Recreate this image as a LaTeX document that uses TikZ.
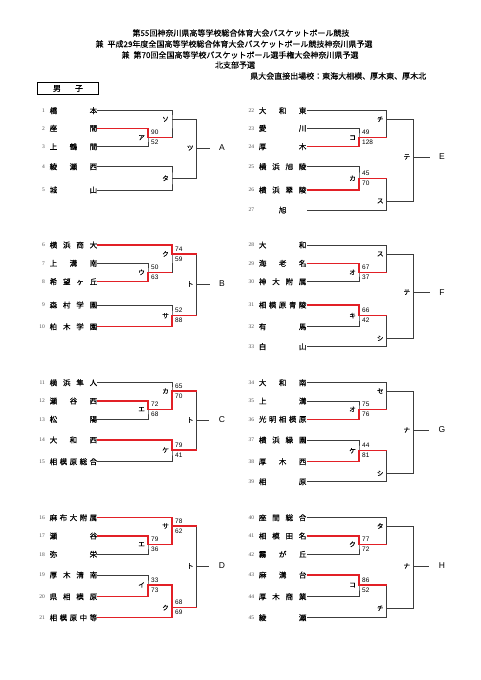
\documentclass[tikz,border=0pt]{standalone}
\usepackage{fontspec}
\usepackage{xcolor}
\setmainfont{Noto Sans CJK JP}
\newfontfamily\jpb{Noto Sans CJK JP}[FakeBold=0.4]
\newfontfamily\scorefont{Liberation Sans}
\newfontfamily\numfont{Liberation Serif}
\definecolor{winred}{RGB}{226,32,38}
\definecolor{bline}{RGB}{60,60,60}
\newcommand{\schname}[1]{\makebox[47.5pt][s]{#1}}

\begin{document}
\begin{tikzpicture}[x=1pt, y=-1pt,
    line/.style={draw=bline, line width=0.8pt},
    win/.style={draw=winred, line width=1.4pt},
    team/.style={anchor=west, inner xsep=0pt, inner ysep=1pt, font=\jpb\fontsize{7.5}{8}\selectfont},
    num/.style={font=\numfont\fontsize{5.5}{6}\selectfont, text=black!70, inner sep=0pt, xshift=-4.5pt},
    mlbl/.style={font=\jpb\fontsize{6.5}{7}\selectfont, inner sep=0pt, xshift=-3pt},
    sc/.style={font=\scorefont\fontsize{6.5}{7}\selectfont, inner sep=0pt, xshift=3pt},
    grp/.style={font=\scorefont\fontsize{8.5}{9}\selectfont},
    head/.style={font=\jpb\fontsize{8}{9}\selectfont, inner sep=0pt}]
    \useasboundingbox (0,0) rectangle (481,680);

    % title
    \node[head] (h1) at (241,33) {第55回神奈川県高等学校総合体育大会バスケットボール競技};
    \node[head] (h2) at (234,44) {兼\hspace{4pt}平成29年度全国高等学校総合体育大会バスケットボール競技神奈川県予選};
    \node[head] (h3) at (240,55) {兼\hspace{4pt}第70回全国高等学校バスケットボール選手権大会神奈川県予選};
    \node[head] (h4) at (235,65) {北支部予選};
    \node[head, anchor=west] (h5) at (250,76) {県大会直接出場校：東海大相模、厚木東、厚木北};
    \node[draw=black, line width=0.9pt, minimum width=61pt, minimum height=12pt, inner sep=0pt,
          font=\jpb\fontsize{8}{9}\selectfont] (boys) at (68,88.5) {\makebox[30pt][s]{男\hfill 子}};

    % teams, left
    \node[team, label={[num]left:1}] (t1) at (49.5,110.7) {\schname{橋\hfill 本}};
    \node[team, label={[num]left:2}] (t2) at (49.5,128.3) {\schname{座\hfill 間}};
    \node[team, label={[num]left:3}] (t3) at (49.5,146.7) {\schname{上\hfill 鶴\hfill 間}};
    \node[team, label={[num]left:4}] (t4) at (49.5,166.7) {\schname{綾\hfill 瀬\hfill 西}};
    \node[team, label={[num]left:5}] (t5) at (49.5,190) {\schname{城\hfill 山}};
    \node[team, label={[num]left:6}] (t6) at (49.5,245) {\schname{横\hfill 浜\hfill 商\hfill 大}};
    \node[team, label={[num]left:7}] (t7) at (49.5,263.3) {\schname{上\hfill 溝\hfill 南}};
    \node[team, label={[num]left:8}] (t8) at (49.5,281.7) {\schname{希\hfill 望\hfill ヶ\hfill 丘}};
    \node[team, label={[num]left:9}] (t9) at (49.5,305) {\schname{森\hfill 村\hfill 学\hfill 園}};
    \node[team, label={[num]left:10}] (t10) at (49.5,326.7) {\schname{柏\hfill 木\hfill 学\hfill 園}};
    \node[team, label={[num]left:11}] (t11) at (49.5,382.7) {\schname{横\hfill 浜\hfill 隼\hfill 人}};
    \node[team, label={[num]left:12}] (t12) at (49.5,401) {\schname{瀬\hfill 谷\hfill 西}};
    \node[team, label={[num]left:13}] (t13) at (49.5,419.3) {\schname{松\hfill 陽}};
    \node[team, label={[num]left:14}] (t14) at (49.5,440) {\schname{大\hfill 和\hfill 西}};
    \node[team, label={[num]left:15}] (t15) at (49.5,461.7) {\schname{相\hfill 模\hfill 原\hfill 総\hfill 合}};
    \node[team, label={[num]left:16}] (t16) at (49.5,517.7) {\schname{麻\hfill 布\hfill 大\hfill 附\hfill 属}};
    \node[team, label={[num]left:17}] (t17) at (49.5,536) {\schname{瀬\hfill 谷}};
    \node[team, label={[num]left:18}] (t18) at (49.5,554.3) {\schname{弥\hfill 栄}};
    \node[team, label={[num]left:19}] (t19) at (49.5,575) {\schname{厚\hfill 木\hfill 清\hfill 南}};
    \node[team, label={[num]left:20}] (t20) at (49.5,596.7) {\schname{県\hfill 相\hfill 模\hfill 原}};
    \node[team, label={[num]left:21}] (t21) at (49.5,617.7) {\schname{相\hfill 模\hfill 原\hfill 中\hfill 等}};

    % teams, right
    \node[team, label={[num]left:22}] (t22) at (258.7,110.7) {\schname{大\hfill 和\hfill 東}};
    \node[team, label={[num]left:23}] (t23) at (258.7,128.3) {\schname{愛\hfill 川}};
    \node[team, label={[num]left:24}] (t24) at (258.7,146.7) {\schname{厚\hfill 木}};
    \node[team, label={[num]left:25}] (t25) at (258.7,166.7) {\schname{横\hfill 浜\hfill 旭\hfill 陵}};
    \node[team, label={[num]left:26}] (t26) at (258.7,190) {\schname{横\hfill 浜\hfill 翠\hfill 陵}};
    \node[team, label={[num]left:27}] (t27) at (258.7,210) {\schname{\hfill 旭\hfill}};
    \node[team, label={[num]left:28}] (t28) at (258.7,245) {\schname{大\hfill 和}};
    \node[team, label={[num]left:29}] (t29) at (258.7,263.3) {\schname{海\hfill 老\hfill 名}};
    \node[team, label={[num]left:30}] (t30) at (258.7,281.7) {\schname{神\hfill 大\hfill 附\hfill 属}};
    \node[team, label={[num]left:31}] (t31) at (258.7,305) {\schname{相\hfill 模\hfill 原\hfill 青\hfill 陵}};
    \node[team, label={[num]left:32}] (t32) at (258.7,326.7) {\schname{有\hfill 馬}};
    \node[team, label={[num]left:33}] (t33) at (258.7,346.7) {\schname{白\hfill 山}};
    \node[team, label={[num]left:34}] (t34) at (258.7,382.7) {\schname{大\hfill 和\hfill 南}};
    \node[team, label={[num]left:35}] (t35) at (258.7,401) {\schname{上\hfill 溝}};
    \node[team, label={[num]left:36}] (t36) at (258.7,419.3) {\schname{光\hfill 明\hfill 相\hfill 模\hfill 原}};
    \node[team, label={[num]left:37}] (t37) at (258.7,440) {\schname{横\hfill 浜\hfill 緑\hfill 園}};
    \node[team, label={[num]left:38}] (t38) at (258.7,461.7) {\schname{厚\hfill 木\hfill 西}};
    \node[team, label={[num]left:39}] (t39) at (258.7,481.7) {\schname{相\hfill 原}};
    \node[team, label={[num]left:40}] (t40) at (258.7,517.7) {\schname{座\hfill 間\hfill 総\hfill 合}};
    \node[team, label={[num]left:41}] (t41) at (258.7,536) {\schname{相\hfill 模\hfill 田\hfill 名}};
    \node[team, label={[num]left:42}] (t42) at (258.7,554.3) {\schname{霧\hfill が\hfill 丘}};
    \node[team, label={[num]left:43}] (t43) at (258.7,575) {\schname{麻\hfill 溝\hfill 台}};
    \node[team, label={[num]left:44}] (t44) at (258.7,596.7) {\schname{厚\hfill 木\hfill 商\hfill 業}};
    \node[team, label={[num]left:45}] (t45) at (258.7,617.7) {\schname{綾\hfill 瀬}};

    % block A
    \coordinate[label={[mlbl]left:ア}, label={[sc, yshift=5pt]right:90}, label={[sc, yshift=-5pt]right:52}] (Aa) at (148,137.7);
    \coordinate[label={[mlbl]left:ソ}] (Aso) at (172,119.3);
    \coordinate[label={[mlbl]left:タ}] (Ata) at (172,178.3);
    \coordinate[label={[mlbl]left:ツ}] (Atsu) at (196.7,148);
    \node[grp] (gA) at (222,148) {A};
    \draw[line] (t2) -| (Aa) |- (t3);
    \draw[line] (t1) -| (Aso) |- (Aa);
    \draw[line] (t4) -| (Ata) |- (t5);
    \draw[line] (Aso) -| (Atsu) |- (Ata);
    \draw[line, shorten >=6pt] (Atsu) -- (gA);
    \draw[win] (t2) -| (Aa) -- (Aa -| Aso);

    % block B
    \coordinate[label={[mlbl]left:ウ}, label={[sc, yshift=5pt]right:50}, label={[sc, yshift=-5pt]right:63}] (Bu) at (148,272.3);
    \coordinate[label={[mlbl]left:ク}, label={[sc, yshift=5pt]right:74}, label={[sc, yshift=-5pt]right:59}] (Bku) at (172,254);
    \coordinate[label={[mlbl]left:サ}, label={[sc, yshift=5pt]right:52}, label={[sc, yshift=-5pt]right:88}] (Bsa) at (172,315.7);
    \coordinate[label={[mlbl]left:ト}] (Bto) at (196.7,284);
    \node[grp] (gB) at (222,284) {B};
    \draw[line] (t7) -| (Bu) |- (t8);
    \draw[line] (t6) -| (Bku) |- (Bu);
    \draw[line] (t9) -| (Bsa) |- (t10);
    \draw[line] (Bku) -| (Bto) |- (Bsa);
    \draw[line, shorten >=6pt] (Bto) -- (gB);
    \draw[win] (t8) -| (Bu) -- (Bu -| Bku);
    \draw[win] (t6) -| (Bku) -- (Bku -| Bto);
    \draw[win] (t10) -| (Bsa) -- (Bsa -| Bto);

    % block C
    \coordinate[label={[mlbl]left:エ}, label={[sc, yshift=5pt]right:72}, label={[sc, yshift=-5pt]right:68}] (Ce) at (148,409.3);
    \coordinate[label={[mlbl]left:カ}, label={[sc, yshift=5pt]right:65}, label={[sc, yshift=-5pt]right:70}] (Cka) at (172,391);
    \coordinate[label={[mlbl]left:ケ}, label={[sc, yshift=5pt]right:79}, label={[sc, yshift=-5pt]right:41}] (Cke) at (172,450);
    \coordinate[label={[mlbl]left:ト}] (Cto) at (196.7,420);
    \node[grp] (gC) at (222,420) {C};
    \draw[line] (t12) -| (Ce) |- (t13);
    \draw[line] (t11) -| (Cka) |- (Ce);
    \draw[line] (t14) -| (Cke) |- (t15);
    \draw[line] (Cka) -| (Cto) |- (Cke);
    \draw[line, shorten >=6pt] (Cto) -- (gC);
    \draw[win] (t12) -| (Ce) -| (Cka) -- (Cka -| Cto);
    \draw[win] (t14) -| (Cke) -- (Cke -| Cto);

    % block D
    \coordinate[label={[mlbl]left:エ}, label={[sc, yshift=5pt]right:79}, label={[sc, yshift=-5pt]right:36}] (De) at (148,544.3);
    \coordinate[label={[mlbl]left:サ}, label={[sc, yshift=5pt]right:78}, label={[sc, yshift=-5pt]right:62}] (Dsa) at (172,526);
    \coordinate[label={[mlbl]left:イ}, label={[sc, yshift=5pt]right:33}, label={[sc, yshift=-5pt]right:73}] (Di) at (148,585);
    \coordinate[label={[mlbl]left:ク}, label={[sc, yshift=5pt]right:68}, label={[sc, yshift=-5pt]right:69}] (Dku) at (172,607.7);
    \coordinate[label={[mlbl]left:ト}] (Dto) at (196.7,566);
    \node[grp] (gD) at (222,566) {D};
    \draw[line] (t17) -| (De) |- (t18);
    \draw[line] (t16) -| (Dsa) |- (De);
    \draw[line] (t19) -| (Di) |- (t20);
    \draw[line] (Di) -| (Dku) |- (t21);
    \draw[line] (Dsa) -| (Dto) |- (Dku);
    \draw[line, shorten >=6pt] (Dto) -- (gD);
    \draw[win] (t17) -| (De) -| (Dsa);
    \draw[win] (t16) -| (Dsa) -- (Dsa -| Dto);
    \draw[win] (t20) -| (Di) -| (Dku);
    \draw[win] (t21) -| (Dku) -- (Dku -| Dto);

    % block E
    \coordinate[label={[mlbl]left:コ}, label={[sc, yshift=5pt]right:49}, label={[sc, yshift=-5pt]right:128}] (Eko) at (359,137.7);
    \coordinate[label={[mlbl]left:チ}] (Echi) at (386.7,119.3);
    \coordinate[label={[mlbl]left:カ}, label={[sc, yshift=5pt]right:45}, label={[sc, yshift=-5pt]right:70}] (Eka) at (359,178.3);
    \coordinate[label={[mlbl]left:ス}] (Esu) at (386.7,201);
    \coordinate[label={[mlbl]left:テ}] (Ete) at (413.3,157);
    \node[grp] (gE) at (442,157) {E};
    \draw[line] (t23) -| (Eko) |- (t24);
    \draw[line] (t22) -| (Echi) |- (Eko);
    \draw[line] (t25) -| (Eka) |- (t26);
    \draw[line] (Eka) -| (Esu) |- (t27);
    \draw[line] (Echi) -| (Ete) |- (Esu);
    \draw[line, shorten >=6pt] (Ete) -- (gE);
    \draw[win] (t24) -| (Eko) -- (Eko -| Echi);
    \draw[win] (t26) -| (Eka) -- (Eka -| Esu);

    % block F
    \coordinate[label={[mlbl]left:オ}, label={[sc, yshift=5pt]right:67}, label={[sc, yshift=-5pt]right:37}] (Fo) at (359,272.3);
    \coordinate[label={[mlbl]left:ス}] (Fsu) at (386.7,254);
    \coordinate[label={[mlbl]left:キ}, label={[sc, yshift=5pt]right:66}, label={[sc, yshift=-5pt]right:42}] (Fki) at (359,315.7);
    \coordinate[label={[mlbl]left:シ}] (Fshi) at (386.7,338.3);
    \coordinate[label={[mlbl]left:テ}] (Fte) at (413.3,292.3);
    \node[grp] (gF) at (442,292.3) {F};
    \draw[line] (t29) -| (Fo) |- (t30);
    \draw[line] (t28) -| (Fsu) |- (Fo);
    \draw[line] (t31) -| (Fki) |- (t32);
    \draw[line] (Fki) -| (Fshi) |- (t33);
    \draw[line] (Fsu) -| (Fte) |- (Fshi);
    \draw[line, shorten >=6pt] (Fte) -- (gF);
    \draw[win] (t29) -| (Fo) -- (Fo -| Fsu);
    \draw[win] (t31) -| (Fki) -- (Fki -| Fshi);

    % block G
    \coordinate[label={[mlbl]left:オ}, label={[sc, yshift=5pt]right:75}, label={[sc, yshift=-5pt]right:76}] (Go) at (359,409.3);
    \coordinate[label={[mlbl]left:セ}] (Gse) at (386.7,391);
    \coordinate[label={[mlbl]left:ケ}, label={[sc, yshift=5pt]right:44}, label={[sc, yshift=-5pt]right:81}] (Gke) at (359,450.7);
    \coordinate[label={[mlbl]left:シ}] (Gshi) at (386.7,473.3);
    \coordinate[label={[mlbl]left:ナ}] (Gna) at (413.3,430);
    \node[grp] (gG) at (442,430) {G};
    \draw[line] (t35) -| (Go) |- (t36);
    \draw[line] (t34) -| (Gse) |- (Go);
    \draw[line] (t37) -| (Gke) |- (t38);
    \draw[line] (Gke) -| (Gshi) |- (t39);
    \draw[line] (Gse) -| (Gna) |- (Gshi);
    \draw[line, shorten >=6pt] (Gna) -- (gG);
    \draw[win] (t36) -| (Go) -- (Go -| Gse);
    \draw[win] (t38) -| (Gke) -- (Gke -| Gshi);

    % block H
    \coordinate[label={[mlbl]left:ク}, label={[sc, yshift=5pt]right:77}, label={[sc, yshift=-5pt]right:72}] (Hku) at (359,544.3);
    \coordinate[label={[mlbl]left:タ}] (Hta) at (386.7,526);
    \coordinate[label={[mlbl]left:コ}, label={[sc, yshift=5pt]right:86}, label={[sc, yshift=-5pt]right:52}] (Hko) at (359,585);
    \coordinate[label={[mlbl]left:チ}] (Hchi) at (386.7,608.3);
    \coordinate[label={[mlbl]left:ナ}] (Hna) at (413.3,566);
    \node[grp] (gH) at (442,566) {H};
    \draw[line] (t41) -| (Hku) |- (t42);
    \draw[line] (t40) -| (Hta) |- (Hku);
    \draw[line] (t43) -| (Hko) |- (t44);
    \draw[line] (Hko) -| (Hchi) |- (t45);
    \draw[line] (Hta) -| (Hna) |- (Hchi);
    \draw[line, shorten >=6pt] (Hna) -- (gH);
    \draw[win] (t41) -| (Hku) -- (Hku -| Hta);
    \draw[win] (t43) -| (Hko) -- (Hko -| Hchi);
\end{tikzpicture}
\end{document}
